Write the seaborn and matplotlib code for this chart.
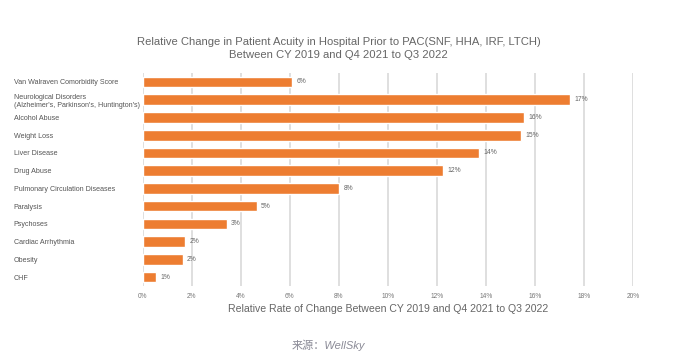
import pandas as pd
import matplotlib.pyplot as plt
import seaborn as sns

categories = [
    "Van Walraven Comorbidity Score",
    "Neurological Disorders\n(Alzheimer's, Parkinson's, Huntington's)",
    "Alcohol Abuse",
    "Weight Loss",
    "Liver Disease",
    "Drug Abuse",
    "Pulmonary Circulation Diseases",
    "Paralysis",
    "Psychoses",
    "Cardiac Arrhythmia",
    "Obesity",
    "CHF",
]
values = [6.09, 17.43, 15.56, 15.42, 13.71, 12.23, 8.0, 4.64, 3.42, 1.74, 1.62, 0.53]
xticks = [0, 2, 4, 6, 8, 10, 12, 14, 16, 18, 20]

df = pd.DataFrame({"cat": categories, "val": values})

sns.set_style("white")
plt.rcParams["font.family"] = ["Liberation Sans", "DejaVu Sans"]

fig = plt.figure(figsize=(6.77, 3.62), dpi=100)
ax = fig.add_axes([0.211, 0.21, 0.724, 0.588])

sns.barplot(data=df, x="val", y="cat", color="#ED7D31", width=0.6,
            saturation=1, ax=ax, zorder=3)

ax.set_xlim(0, 20)
ax.set_xticks(xticks)
ax.set_xticklabels([f"{t}%" for t in xticks], fontsize=4.8, color="#777777")
ax.tick_params(axis="y", labelsize=5.1, labelcolor="#555555", length=0, pad=93)
for lab in ax.get_yticklabels():
    lab.set_horizontalalignment("left")
ax.tick_params(axis="x", length=0, pad=5)
ax.grid(axis="x", color="#dcdcdc", linewidth=1.3, zorder=0)
sns.despine(ax=ax, left=True, bottom=True)

for i, v in enumerate(values):
    ax.text(v + 0.18, i, f"{v:.0f}%", va="center", ha="left",
            fontsize=4.9, color="#666666")

ax.set_ylabel("")
ax.set_xlabel("Relative Rate of Change Between CY 2019 and Q4 2021 to Q3 2022",
              fontsize=7.6, color="#666666", labelpad=3)

fig.text(0.5, 0.885, "Relative Change in Patient Acuity in Hospital Prior to PAC(SNF, HHA, IRF, LTCH)",
         ha="center", va="center", fontsize=8.1, color="#666666")
fig.text(0.5, 0.848, "Between CY 2019 and Q4 2021 to Q3 2022",
         ha="center", va="center", fontsize=8.1, color="#666666")

fig.text(0.485, 0.045, "来源：WellSky", ha="center", va="center", fontsize=8,
         color="#8a8a96", style="italic", family=["Liberation Sans", "Noto Sans CJK SC"])

fig.savefig("out.png", dpi=100)
